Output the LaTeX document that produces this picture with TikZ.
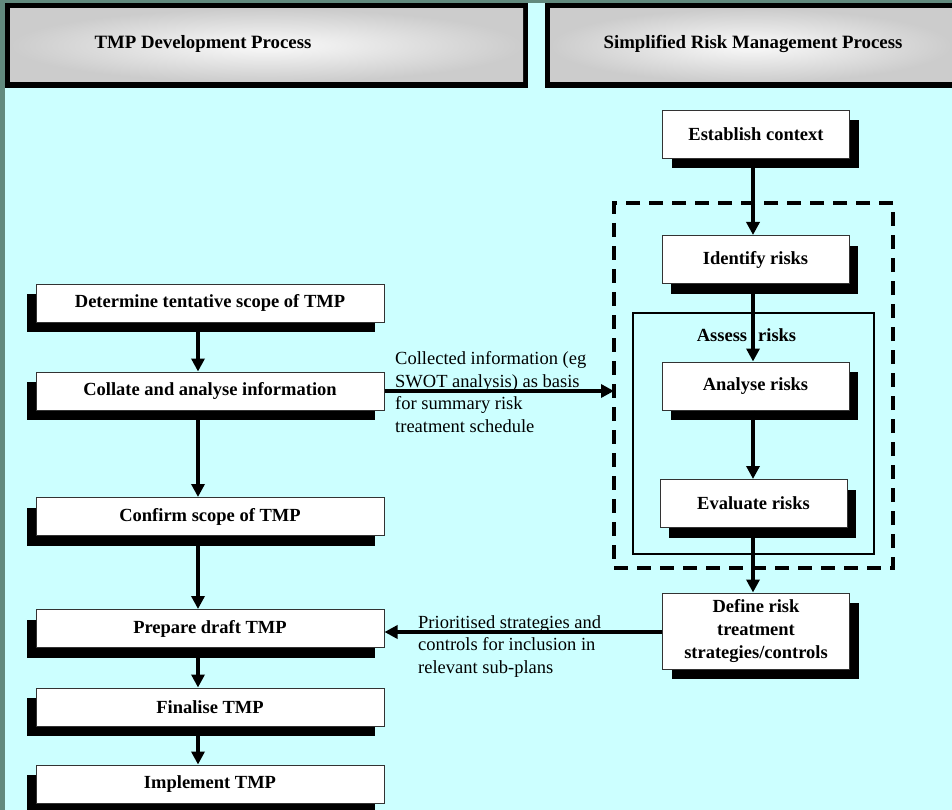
\documentclass[tikz,border=0pt]{standalone}
\usepackage{fontspec}
\setmainfont{Liberation Serif}
\usetikzlibrary{arrows.meta,shadows}

\definecolor{pagecyan}{HTML}{CCFFFF}
\definecolor{edgeteal}{HTML}{628A7E}
\definecolor{boxline}{HTML}{333333}

\begin{document}
\begin{tikzpicture}[x=1pt,y=-1pt,
  stepbox/.style={draw=boxline, line width=1pt, fill=white, inner sep=0pt,
    font=\bfseries\fontsize{18.5}{23}\selectfont, align=center},
  leftbox/.style={stepbox, minimum width=348pt, minimum height=38pt,
    drop shadow={shadow xshift=-9pt, shadow yshift=-10pt, fill=black, opacity=1}},
  rightbox/.style={stepbox, minimum width=187pt, minimum height=48pt,
    drop shadow={shadow xshift=9pt, shadow yshift=-10pt, fill=black, opacity=1}},
  headtext/.style={font=\bfseries\fontsize{18.8}{23}\selectfont, inner sep=0pt},
  flow/.style={line width=3.5pt, -{Triangle[width=13pt,length=13pt]}},
  note/.style={font=\fontsize{18.5}{22.7}\selectfont, align=left, inner sep=0pt,
    anchor=north west},
]
\useasboundingbox (0,0) rectangle (952,810);

% page background with the dark edge strip
\fill[edgeteal] (0,0) rectangle (952,810);
\fill[pagecyan] (5,3) rectangle (952,810);

% column headers
\fill[black] (5,3) rectangle (528,88);
\shade[inner color=black!2, outer color=black!20] (10,9) rectangle (523,82);
\node[headtext] (h1) at (203,44) {TMP Development Process};

\fill[black] (545,3) rectangle (952,88);
\shade[inner color=black!2, outer color=black!20] (550,9) rectangle (952,82);
\node[headtext] (h2) at (753,44) {Simplified Risk Management Process};

% left column: TMP development steps
\node[leftbox] (b1) at (210,303)   {Determine tentative scope of TMP};
\node[leftbox] (b2) at (210,391)   {Collate and analyse information};
\node[leftbox] (b3) at (210,516.5) {Confirm scope of TMP};
\node[leftbox] (b4) at (210,628.5) {Prepare draft TMP};
\node[leftbox] (b5) at (210,707)   {Finalise TMP};
\node[leftbox] (b6) at (210,784)   {Implement TMP};

% right column: risk management process
\node[draw, line width=4pt, dash pattern=on 14pt off 9pt, outer sep=0pt,
      minimum width=279pt, minimum height=365pt] (zone) at (753.5,385.5) {};
\node[draw, line width=1.6pt, outer sep=0pt,
      minimum width=241pt, minimum height=241pt] (assess) at (753.5,433.5) {};
\node[headtext, font=\bfseries\fontsize{18.5}{23}\selectfont] (assesslbl)
      at (746.5,335) {Assess\hspace{11pt}risks};

\node[rightbox] (ec)  at (756,134.5)  {Establish context};
\node[rightbox] (ir)  at (755.5,259.5) {Identify risks};
\node[rightbox] (ar)  at (755.5,386)   {Analyse risks};
\node[rightbox] (evr) at (753.5,503.5) {Evaluate risks};
\node[rightbox, minimum height=76pt] (dr) at (756,631)
      {Define risk\\treatment\\strategies/controls};

% connectors, left column
\draw[flow] ([xshift=-12pt]b1.south) -- ([xshift=-12pt]b2.north);
\draw[flow] ([xshift=-12pt]b2.south) -- ([xshift=-12pt]b3.north);
\draw[flow] ([xshift=-12pt]b3.south) -- ([xshift=-12pt]b4.north);
\draw[flow] ([xshift=-12pt]b4.south) -- ([xshift=-12pt]b5.north);
\draw[flow] ([xshift=-12pt]b5.south) -- ([xshift=-12pt]b6.north);

% connectors, right column
\coordinate (rcol) at (753,0);
\draw[flow] (ec.south -| rcol)  -- (ir.north -| rcol);
\draw[flow] (ir.south -| rcol)  -- (ar.north -| rcol);
\draw[flow] (ar.south -| rcol)  -- (evr.north -| rcol);
\draw[flow] (evr.south -| rcol) -- (dr.north -| rcol);

% links between the two processes
\draw[flow] (b2.east) -- (b2.east -| zone.west);
\draw[flow] ([yshift=-1pt]dr.west) -- ([yshift=-1pt]dr.west -| b4.east);

\node[note] (n1) at (395,351.3)
  {Collected information (eg\\SWOT analysis) as basis\\for summary risk\\treatment schedule};
\node[note] (n2) at (418,615)
  {Prioritised strategies and\\controls for inclusion in\\relevant sub-plans};
\end{tikzpicture}
\end{document}
